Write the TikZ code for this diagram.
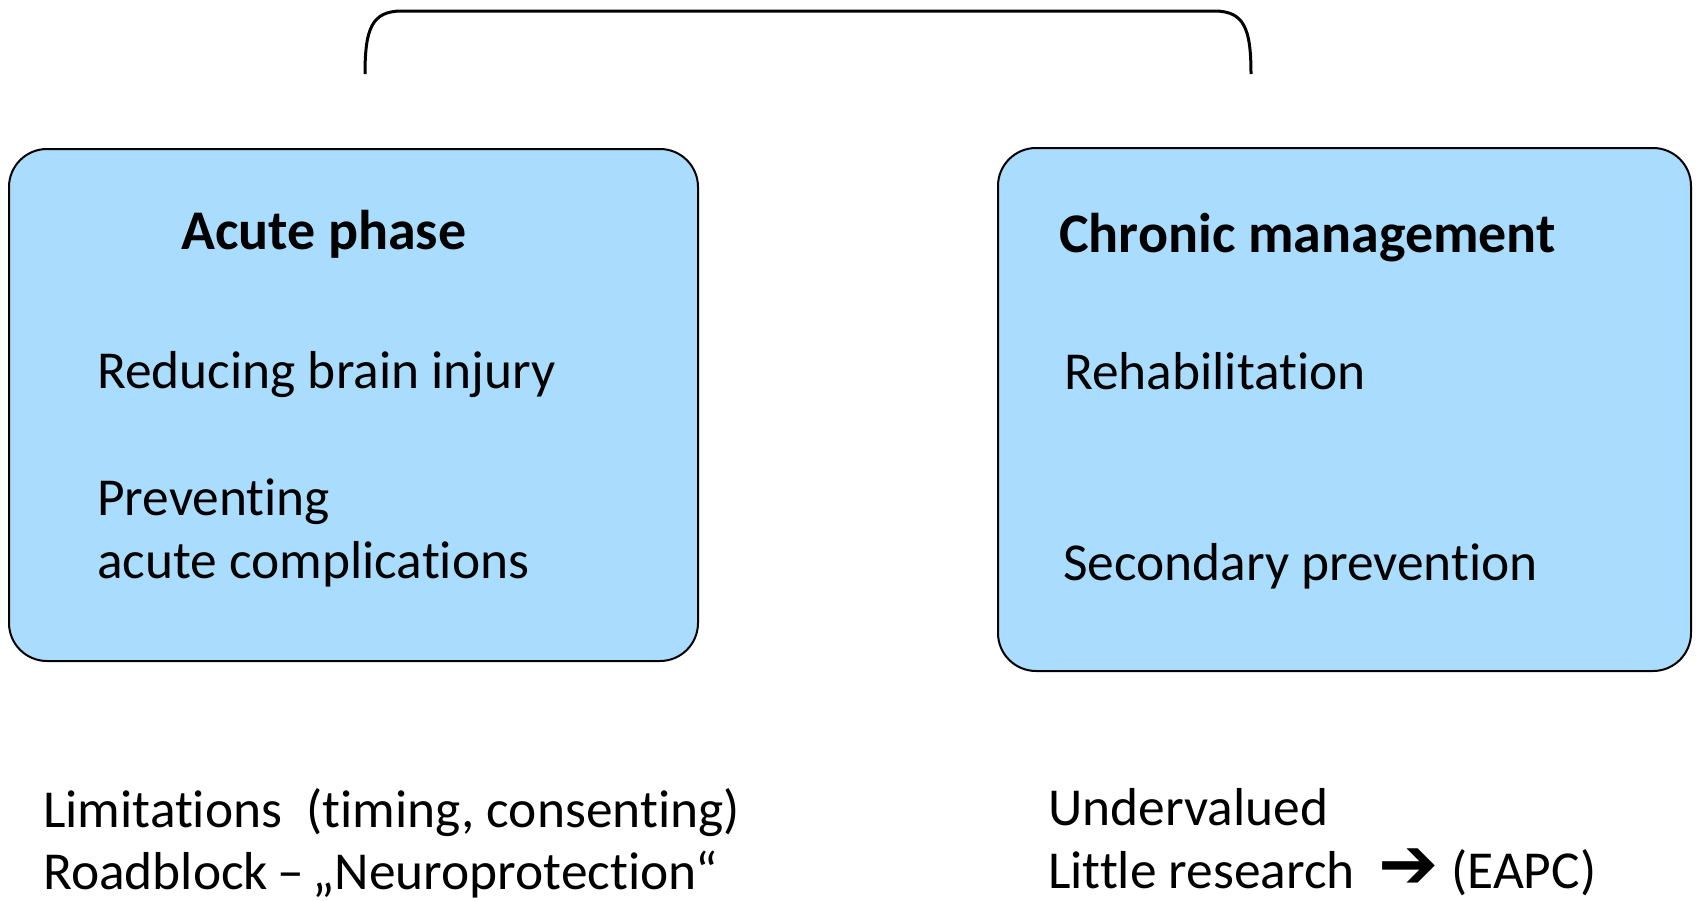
\documentclass[tikz,border=0pt]{standalone}
\usepackage{fontspec}
\setmainfont{Carlito}[Ligatures={NoCommon}]
\newfontfamily\symfont{DejaVu Sans Bold}
\definecolor{boxblue}{RGB}{170,221,253}
\begin{document}
\begin{tikzpicture}[x=1pt,y=-1pt,
  phasebox/.style={draw=black,line width=2pt,fill=boxblue,rounded corners=38pt},
  heading/.style={anchor=base west,inner sep=0pt,font=\fontsize{56}{66}\selectfont\bfseries},
  item/.style={anchor=base west,inner sep=0pt,font=\fontsize{53.4}{63}\selectfont,align=left},
  bracket/.style={line width=3pt,line cap=butt}]
\useasboundingbox (0,0) rectangle (1698,900);

% bracket joining the two phases
\coordinate (bl) at (365,74);
\coordinate (br) at (1251,74);
\draw[bracket] (bl) .. controls (365,28) and (372,11) .. (402,11) -- (1214,11)
  .. controls (1244,11) and (1251,28) .. (br);

% the two phase boxes
\draw[phasebox] (9,149) rectangle (698,661);
\draw[phasebox] (998,148) rectangle (1691,671);

% acute phase
\node[heading] (acute) at (181,249) {Acute phase};
\node[item] (reduce) at (97,388) {Reducing brain injury};
\node[item] (prevent) at (97,515) {Preventing};
\node[item] (compl) at (97,578) {acute complications};

% chronic management
\node[heading] (chronic) at (1059,252) {Chronic management};
\node[item] (rehab) at (1064,389) {Rehabilitation};
\node[item] (second) at (1063,580) {Secondary prevention};

% remarks below the boxes
\node[item] (limits) at (43,827) {Limitations\ \ (timing, consenting)};
\node[item] (road) at (43,889) {Roadblock\,–\,„Neuroprotection“};
\node[item] (underval) at (1048,825) {Undervalued};
\node[item] (little) at (1048,888) {Little research\ \ \smash{\symfont\fontsize{72}{72}\selectfont ➔} (EAPC)};
\end{tikzpicture}
\end{document}
